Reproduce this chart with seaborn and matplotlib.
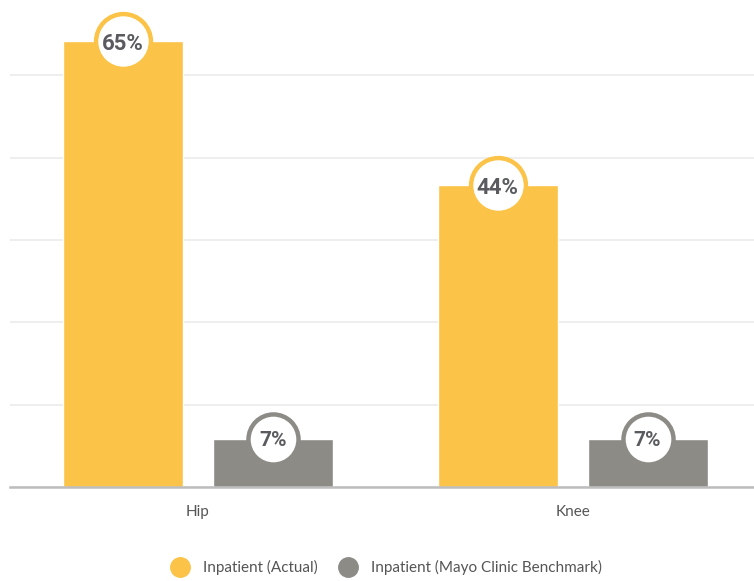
import matplotlib
matplotlib.use("Agg")
import matplotlib.pyplot as plt
from matplotlib.lines import Line2D
import pandas as pd
import seaborn as sns

# Data
categories = ["Hip", "Knee"]
series_names = ["Inpatient (Actual)", "Inpatient (Mayo Clinic Benchmark)"]
actual = [65, 44]
benchmark = [7, 7]
y_ticks = [0, 12, 24, 36, 48, 60]

YELLOW = "#FBC347"
GRAY = "#8D8B86"
TEXT = "#555555"
LABEL = "#5A5B5F"

df = pd.DataFrame({
    "category": categories * 2,
    "series": [series_names[0]] * len(categories) + [series_names[1]] * len(categories),
    "value": actual + benchmark,
})

sns.set_theme(style="white")
plt.rcParams["font.family"] = ["Lato", "DejaVu Sans"]

fig = plt.figure(figsize=(7.54, 5.81), dpi=100)
ax = fig.add_axes([10 / 754, 94 / 581, 1 - 10 / 754, 487 / 581])

sns.barplot(data=df, x="category", y="value", hue="series",
            palette=[YELLOW, GRAY], width=0.8, gap=0.2,
            saturation=1, legend=False, ax=ax, zorder=2)

ax.set_xlim(-0.501, 1.484)
ax.set_ylim(0, 71)
ax.set_yticks(y_ticks)
ax.set_yticklabels([])
ax.tick_params(axis="y", length=0)
ax.tick_params(axis="x", length=0, pad=13, labelsize=11, labelcolor=TEXT)
ax.grid(axis="y", color="#EDEDED", linewidth=1.3, zorder=0)
ax.grid(axis="x", visible=False)
for side in ["top", "right", "left"]:
    ax.spines[side].set_visible(False)
ax.spines["bottom"].set_color("#BDBDBD")
ax.spines["bottom"].set_linewidth(1.8)
ax.set_xlabel("")
ax.set_ylabel("")

# Circular value badges at the top of each bar
label_font = ["Roboto", "DejaVu Sans"]
colors = [YELLOW, GRAY]
sizes = [1560, 1300]
fsizes = [16, 15]
for container, col, s, fs in zip(ax.containers, colors, sizes, fsizes):
    for bar in container:
        x = bar.get_x() + bar.get_width() / 2
        h = bar.get_height()
        ax.scatter([x], [h], s=s, facecolor="white", edgecolor=col,
                   linewidth=3.2, zorder=4, clip_on=False)
        ax.text(x, h, f"{h:.0f}%", ha="center", va="center_baseline",
                fontsize=fs, fontweight="bold", color=LABEL,
                family=label_font, zorder=5)

handles = [Line2D([], [], marker="o", linestyle="", markersize=14,
                  markerfacecolor=c, markeredgecolor=c) for c in colors]
fig.legend(handles, series_names, loc="lower center",
           bbox_to_anchor=(0.508, -0.014), ncol=2, frameon=False,
           fontsize=11, labelcolor=TEXT, handletextpad=0.5,
           columnspacing=1.0)

fig.savefig("out.png", dpi=100)
